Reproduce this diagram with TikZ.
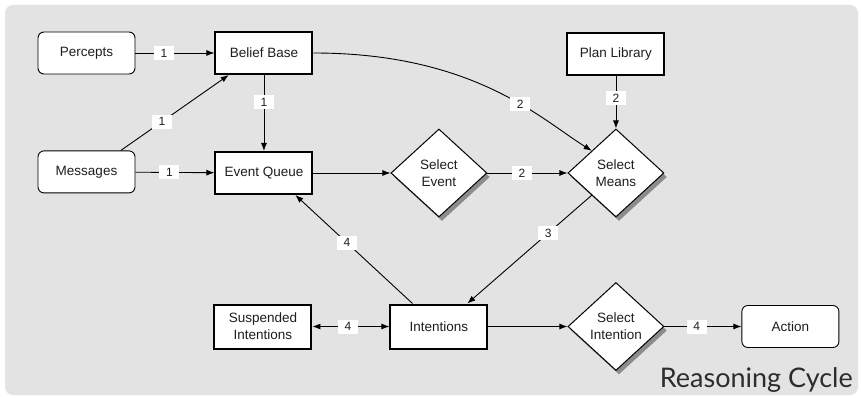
\documentclass[tikz,border=0pt]{standalone}
\usepackage{fontspec}
\setmainfont{Liberation Sans}
\newfontfamily\titlefont{Lato}
\usepackage{tikz}
\usetikzlibrary{positioning,arrows.meta,shapes.geometric,shadows}

\definecolor{panelgray}{RGB}{227,227,227}
\definecolor{inkgray}{RGB}{30,30,30}
\definecolor{titlegray}{RGB}{45,45,45}
\definecolor{shadegray}{RGB}{140,140,140}

\tikzset{
    boxfont/.style={font=\fontsize{13.5}{17}\selectfont, text=inkgray},
    iobox/.style={draw, boxfont, fill=white, rounded corners=6pt, line width=0.9pt,
        minimum width=97pt, minimum height=42pt},
    storebox/.style={draw, boxfont, fill=white, line width=2pt,
        minimum width=97pt, minimum height=42pt},
    choice/.style={draw, diamond, boxfont, fill=white, line width=1pt, inner sep=0pt,
        minimum width=96pt, minimum height=88pt,
        drop shadow={shadow xshift=3pt, shadow yshift=-4pt, fill=shadegray, opacity=1}},
    num/.style={fill=white, font=\fontsize{12}{13}\selectfont, text=inkgray,
        inner sep=1pt, minimum width=20pt, minimum height=14pt},
    flow/.style={-{Latex[length=8pt, width=6pt]}, line width=0.9pt},
}

\begin{document}
\begin{tikzpicture}[align=center]
    \useasboundingbox (0,0) rectangle (861pt,-398pt);
    \fill [panelgray, rounded corners=8pt] (5pt,-5pt) rectangle (858pt,-395pt);

    \node [iobox] (percepts) at (86.5pt,-53pt) {Percepts};
    \node [storebox, right=79pt of percepts] (belief) {Belief Base};
    \node [iobox, below=76pt of percepts] (messages) {Messages};
    \node [storebox, below=76pt of belief] (eventq) {Event Queue};

    \node [choice, right=77pt of eventq] (selevent) {Select\\Event};
    \node [choice, right=80pt of selevent] (selmeans) {Select\\Means};
    \node [storebox, above=52pt of selmeans] (planlib) {Plan Library};

    \node [storebox, below=86pt of selevent, minimum height=44pt] (intentions) {Intentions};
    \node [storebox, left=77pt of intentions, minimum height=44pt] (suspended) {Suspended\\Intentions};
    \node [choice, right=79pt of intentions] (selint) {Select\\Intention};
    \node [iobox, right=77pt of selint] (action) {Action};

    \draw [flow] (percepts) -- node [num, pos=0.36] {1} (belief);
    \draw [flow] (messages.32) -- node [num, pos=0.38] {1} (belief.212);
    \draw [flow] (messages) -- node [num, pos=0.43] {1} (eventq);
    \draw [flow] (belief) -- node [num, pos=0.36] {1} (eventq);
    \draw [flow] (eventq) -- (selevent);

    \draw [flow] (selevent) -- node [num, pos=0.43] {2} (selmeans);
    \draw [flow] (planlib) -- node [num, pos=0.42] {2} (selmeans);
    \draw [flow] (belief.east) .. controls +(0:160pt) and +(148:60pt) ..
        node [num, pos=0.61] {2} (selmeans.north west);

    \draw [flow] (selmeans.south west) -- node [num, pos=0.35] {3} (intentions.39);
    \draw [flow] (intentions.139) -- node [num, pos=0.56] {4} (eventq.-35);
    \draw [flow, {Latex[length=8pt, width=6pt]}-{Latex[length=8pt, width=6pt]}]
        (suspended) -- node [num, pos=0.46] {4} (intentions);
    \draw [flow] (intentions) -- (selint);
    \draw [flow] (selint) -- node [num, pos=0.42] {4} (action);

    % caption
    \node [anchor=base east, inner sep=0pt, text=titlegray,
        font=\titlefont\fontsize{27}{31}\selectfont] (caption) at (853pt,-387pt) {Reasoning Cycle};
\end{tikzpicture}
\end{document}
